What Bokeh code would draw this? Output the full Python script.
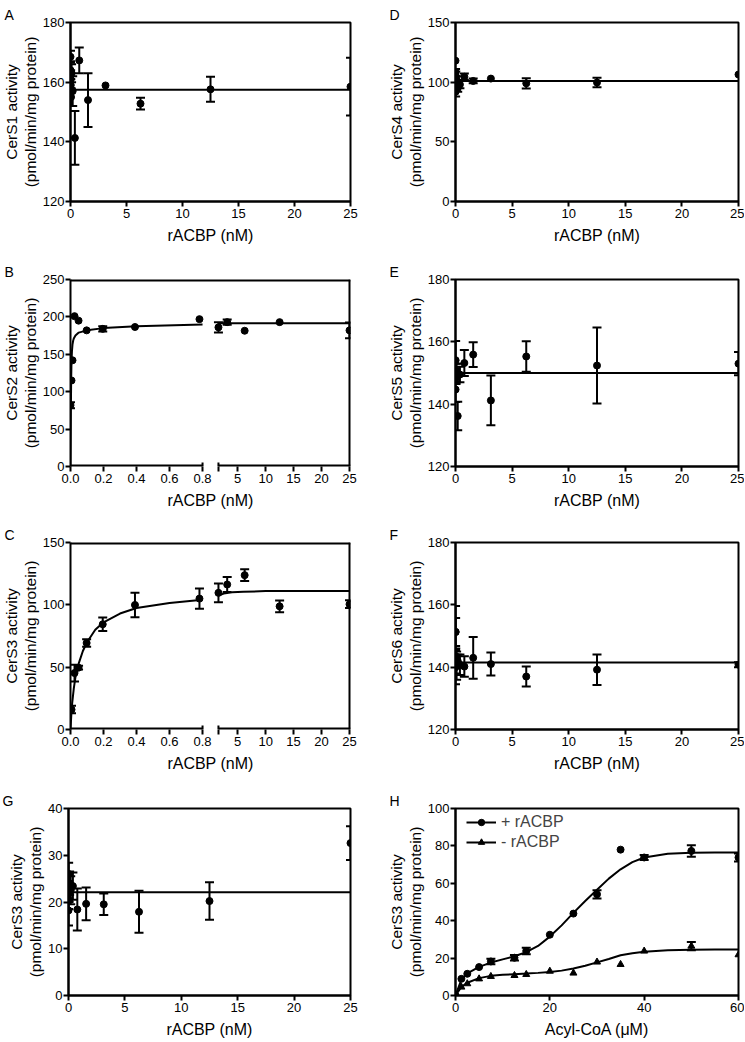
from bokeh.plotting import figure
from bokeh.layouts import column, row
from bokeh.models import (Range1d, FixedTicker, Whisker, TeeHead, ColumnDataSource,
                          Span, Legend, LegendItem, CustomJSTickFormatter)
from bokeh.embed import file_html
from bokeh.resources import INLINE

FONT = "Liberation Sans"

# ---------------- data ----------------
# rACBP concentrations (nM)
conc = [0, 0.0061, 0.0122, 0.0244, 0.0488, 0.0977, 0.1953, 0.3906, 0.7813,
        1.5625, 3.125, 6.25, 12.5, 25]
xticks_lin = [0, 5, 10, 15, 20, 25]

# A: CerS1
cers1 = [168.5, 164, 161, 159, 155, 163, 157, 141.3, 167.3, 154, 158.9, 152.8, 157.6, 158.5]
cers1_err = [2, 3, 3, 2, 3, 3, 5, 9, 4.3, 9, 0, 2, 4.2, 9.7]
cers1_fit = 157.5

# D: CerS4
cers4 = [118, 108, 92, 105, 97, 102, 95, 98, 104.5, 101, 103, 99, 99.7, 106.4]
cers4_err = [0, 3, 4, 4, 3, 3, 3, 3, 2.7, 2, 0, 4.3, 4, 0]
cers4_fit = 101

# B: CerS2
cers2 = [82, 115, 142, 201, 195, 182, 184, 186.5, 197, 186, 193, 181.5, 193, 182]
cers2_err = [4, 0, 0, 0, 0, 0, 3.5, 0, 0, 7, 3.5, 0, 0, 10.5]
cers2_fit_x1 = [0, 0.002, 0.004, 0.006, 0.009, 0.012, 0.016, 0.02, 0.03, 0.05, 0.1, 0.2, 0.4, 0.8]
cers2_fit_y1 = [0, 70, 115, 140, 155, 163, 168, 171, 175, 179, 182, 185, 187.5, 190]
cers2_fit_x2 = [1.5625, 25]
cers2_fit_y2 = [191.5, 191.5]

# E: CerS5
cers5 = [149.3, 144.7, 154.1, 151, 148.5, 150, 136.2, 149.5, 153.2, 155.9, 141.2, 155.3, 152.4, 153]
cers5_err = [2, 4, 6.2, 2, 2, 3, 4.6, 2.5, 4.2, 4, 8, 4.9, 12.2, 3.7]
cers5_fit = 150

# C: CerS3
cers3_x = [0.0061, 0.0244, 0.0488, 0.0977, 0.1953, 0.3906, 0.7813, 1.5625, 3.125, 6.25, 12.5, 25]
cers3 = [16, 45.3, 49.6, 69.4, 84.4, 99.9, 105, 109.6, 116.3, 123.8, 98.8, 100.5]
cers3_err = [3, 6.7, 1.5, 3, 5.4, 9.8, 8.2, 7.5, 6, 4.7, 4.7, 3.1]
cers3_fit_x1 = [0, 0.005, 0.01, 0.02, 0.03, 0.05, 0.075, 0.1, 0.15, 0.2, 0.3, 0.4, 0.6, 0.8]
cers3_fit_y1 = [0, 12, 21, 33, 42, 53, 63, 70, 80, 86, 93, 97.5, 101.5, 104]
cers3_fit_x2 = [1.5625, 2.5, 4, 6, 10, 25]
cers3_fit_y2 = [107.5, 109, 110, 110.5, 111, 111]

# F: CerS6
cers6 = [140, 151.3, 151.3, 143.5, 141, 140.5, 142, 140.8, 140.2, 143, 141, 137, 139.2, 140.8]
cers6_err = [5.5, 8.3, 4.5, 2.5, 3, 4.5, 2, 3.3, 3.3, 6.7, 3.7, 3.2, 4.9, 0.8]
cers6_fit = 141.5

# G: CerS3 (second)
cers3b = [18.2, 20.5, 26, 23.2, 22, 24, 22.5, 23.4, 18.4, 19.6, 19.5, 17.9, 20.2, 32.6]
cers3b_err = [3.2, 2, 2.4, 3, 2, 2.5, 3, 2.9, 4.5, 3.5, 2.3, 4.5, 4, 3.6]
cers3b_fit = 22.1

# H: Acyl-CoA
acyl = [0, 1.25, 2.5, 5, 7.5, 12.5, 15, 20, 25, 30, 35, 40, 50, 60]
plus_racbp = [0, 8.9, 11.6, 15.2, 18.2, 20.2, 23.8, 32.5, 43.8, 54.1, 78.0, 73.8, 77.3, 73.8]
plus_err = [0, 0, 0, 0, 1.5, 1.5, 1.8, 0, 0, 2.2, 0, 1.4, 3.1, 2.2]
minus_racbp = [0, 4.5, 6.3, 8.9, 10.2, 10.7, 11.25, 13.0, 12.0, 17.9, 16.6, 23.75, 26.4, 21.8]
minus_err = [0, 0, 0, 0, 0, 0, 0, 0, 0, 0, 0, 0, 2.2, 0]
curve_x = [0, 1.25, 2.5, 5, 7.5, 10, 12.5, 15, 17.5, 20, 22.5, 25, 27.5, 30, 32.5, 35,
           37.5, 40, 45, 50, 55, 60]
curve_plus = [0, 8.5, 11.8, 15.3, 17.6, 19.3, 21.0, 23.2, 26.5, 31.5, 37.5, 44.2, 50.5,
              56.5, 62.5, 67.5, 71.3, 73.8, 75.8, 76.4, 76.5, 76.5]
curve_minus = [0, 4.6, 6.8, 9.3, 10.5, 11.1, 11.4, 11.7, 12.1, 12.6, 13.3, 14.4, 15.9,
               17.7, 19.5, 21.5, 22.6, 23.4, 24.2, 24.5, 24.6, 24.6]

# ---------------- layout constants ----------------
TOP = 22
ROWS = [(257, 179), (263, 187), (266, 187), (255, 187)]   # (figure height, frame height)
COLS = [(372, 68, 22), (372, 83, 6)]                      # (width, left, right border)

# broken axis (B, C): fraction of frame where segments sit
SEG1_END = 0.4716
SEG2_START = 0.5284
SEG2_END = 0.9965


def brk(v):
    if v <= 0.8:
        return v / 0.8 * SEG1_END
    return SEG2_START + (v - 1.5625) / (25 - 1.5625) * (SEG2_END - SEG2_START)


def base_fig(col, rw, x_range, y_range, ylabel, xlabel, yticks, letter):
    w, bl, br = COLS[col]
    h, fh = ROWS[rw]
    p = figure(width=w, height=h, x_range=x_range, y_range=y_range, title=letter,
               output_backend="svg", toolbar_location=None,
               min_border_left=bl, min_border_right=br, min_border_top=TOP,
               min_border_bottom=h - TOP - fh)
    p.title.align = "left"
    p.title.offset = -66
    p.title.standoff = 0
    p.title.text_font = FONT
    p.title.text_font_size = "14px"
    p.title.text_font_style = "normal"
    p.title.text_color = "black"
    p.grid.visible = False
    p.outline_line_color = "black"
    p.outline_line_width = 2
    p.outline_line_alpha = 1
    for ax in (p.xaxis[0], p.yaxis[0]):
        ax.axis_line_width = 2
        ax.axis_line_color = "black"
        ax.major_tick_line_width = 2
        ax.major_tick_out = 5
        ax.major_tick_in = 0
        ax.minor_tick_line_color = None
        ax.major_label_text_font = FONT
        ax.major_label_text_font_size = "13px"
        ax.major_label_text_color = "black"
        ax.axis_label_text_font = FONT
        ax.axis_label_text_font_style = "normal"
        ax.axis_label_text_color = "black"
    p.xaxis.axis_label_text_font_size = "16px"
    p.xaxis.major_label_standoff = 2
    p.xaxis.axis_label_standoff = 6
    p.yaxis.axis_label_text_font_size = "15.5px"
    p.yaxis.axis_label_text_line_height = 1.1
    p.yaxis.major_label_standoff = 1
    p.yaxis.axis_label_standoff = 1
    p.xaxis.axis_label = xlabel
    p.yaxis.axis_label = ylabel
    p.yaxis.ticker = FixedTicker(ticks=yticks)
    return p


def add_err(p, xs, ys, errs):
    bx = [x for x, e in zip(xs, errs) if e > 0]
    up = [y + e for y, e in zip(ys, errs) if e > 0]
    lo = [y - e for y, e in zip(ys, errs) if e > 0]
    src = ColumnDataSource(dict(base=bx, upper=up, lower=lo))
    w = Whisker(source=src, base="base", upper="upper", lower="lower",
                dimension="height", line_width=2, line_color="black",
                upper_head=TeeHead(size=9, line_width=2, line_color="black"),
                lower_head=TeeHead(size=9, line_width=2, line_color="black"))
    p.add_layout(w)


def std_panel(col, rw, yr, yticks, ylabel, letter, ys, errs, fit):
    p = base_fig(col, rw, Range1d(0, 25), Range1d(*yr), ylabel, "rACBP (nM)", yticks, letter)
    p.xaxis.ticker = FixedTicker(ticks=xticks_lin)
    p.add_layout(Span(location=fit, dimension="width", line_color="black", line_width=2))
    add_err(p, conc, ys, errs)
    p.scatter(conc, ys, marker="circle", size=7, color="black")
    return p


def broken_panel(col, rw, yr, yticks, ylabel, letter, xs, ys, errs, cx1, cy1, cx2, cy2):
    p = base_fig(col, rw, Range1d(0, 1), Range1d(*yr), ylabel, "rACBP (nM)", yticks, letter)
    p.outline_line_color = None
    p.xaxis.axis_line_color = None
    tick_vals = [0, 0.2, 0.4, 0.6, 0.8, 1.5625, 5, 10, 15, 20, 25]
    tick_labels = ["0.0", "0.2", "0.4", "0.6", "0.8", "", "5", "10", "15", "20", "25"]
    p.xaxis.ticker = FixedTicker(ticks=[brk(v) for v in tick_vals])
    p.xaxis.formatter = CustomJSTickFormatter(args=dict(labels=tick_labels),
                                              code="return labels[index];")
    y0, y1 = yr
    # frame: top, right, and broken bottom axis
    p.segment(x0=[0, 1, 0, brk(1.5625)], y0=[y1, y0, y0, y0],
              x1=[1, 1, brk(0.8), 1], y1=[y1, y1, y0, y0],
              line_width=4, color="black")
    cap = (y1 - y0) * 4 / ROWS[rw][1]
    p.segment(x0=[brk(0.8), brk(1.5625)], y0=[y0, y0],
              x1=[brk(0.8), brk(1.5625)], y1=[y0 + cap, y0 + cap],
              line_width=2, color="black")
    p.line([brk(v) for v in cx1], cy1, line_width=2, color="black")
    p.line([brk(v) for v in cx2], cy2, line_width=2, color="black")
    bx = [brk(v) for v in xs]
    add_err(p, bx, ys, errs)
    p.scatter(bx, ys, marker="circle", size=7, color="black")
    return p


YL = "{} activity\n(pmol/min/mg protein)"

pA = std_panel(0, 0, (120, 180), [120, 140, 160, 180], YL.format("CerS1"), "A",
               cers1, cers1_err, cers1_fit)
pD = std_panel(1, 0, (0, 150), [0, 50, 100, 150], YL.format("CerS4"), "D",
               cers4, cers4_err, cers4_fit)
pB = broken_panel(0, 1, (0, 250), [0, 50, 100, 150, 200, 250], YL.format("CerS2"), "B",
                  conc, cers2, cers2_err, cers2_fit_x1, cers2_fit_y1, cers2_fit_x2, cers2_fit_y2)
pE = std_panel(1, 1, (120, 180), [120, 140, 160, 180], YL.format("CerS5"), "E",
               cers5, cers5_err, cers5_fit)
pC = broken_panel(0, 2, (0, 150), [0, 50, 100, 150], YL.format("CerS3"), "C",
                  cers3_x, cers3, cers3_err, cers3_fit_x1, cers3_fit_y1, cers3_fit_x2, cers3_fit_y2)
pF = std_panel(1, 2, (120, 180), [120, 140, 160, 180], YL.format("CerS6"), "F",
               cers6, cers6_err, cers6_fit)
pG = std_panel(0, 3, (0, 40), [0, 10, 20, 30, 40], YL.format("CerS3"), "G",
               cers3b, cers3b_err, cers3b_fit)

# H
pH = base_fig(1, 3, Range1d(0, 60), Range1d(0, 100), YL.format("CerS3"), "Acyl-CoA (\u03bcM)",
              [0, 20, 40, 60, 80, 100], "H")
pH.xaxis.ticker = FixedTicker(ticks=[0, 20, 40, 60])
l1 = pH.line(curve_x, curve_plus, line_width=2, color="black")
l2 = pH.line(curve_x, curve_minus, line_width=2, color="black")
add_err(pH, acyl, plus_racbp, plus_err)
add_err(pH, acyl, minus_racbp, minus_err)
s1 = pH.scatter(acyl, plus_racbp, marker="circle", size=7, color="black")
s2 = pH.scatter(acyl, minus_racbp, marker="triangle", size=7, color="black")
leg = Legend(items=[LegendItem(label="+ rACBP", renderers=[l1, s1]),
                    LegendItem(label="- rACBP", renderers=[l2, s2])],
             location=(11, 144), border_line_color=None, background_fill_alpha=0,
             label_text_font=FONT, label_text_font_size="16px",
             glyph_width=30, glyph_height=16, spacing=2, padding=3, margin=0,
             label_standoff=5)
pH.add_layout(leg)

layout = column(row(pA, pD), row(pB, pE), row(pC, pF), row(pG, pH))
open("out.html", "w").write(file_html(layout, INLINE))
